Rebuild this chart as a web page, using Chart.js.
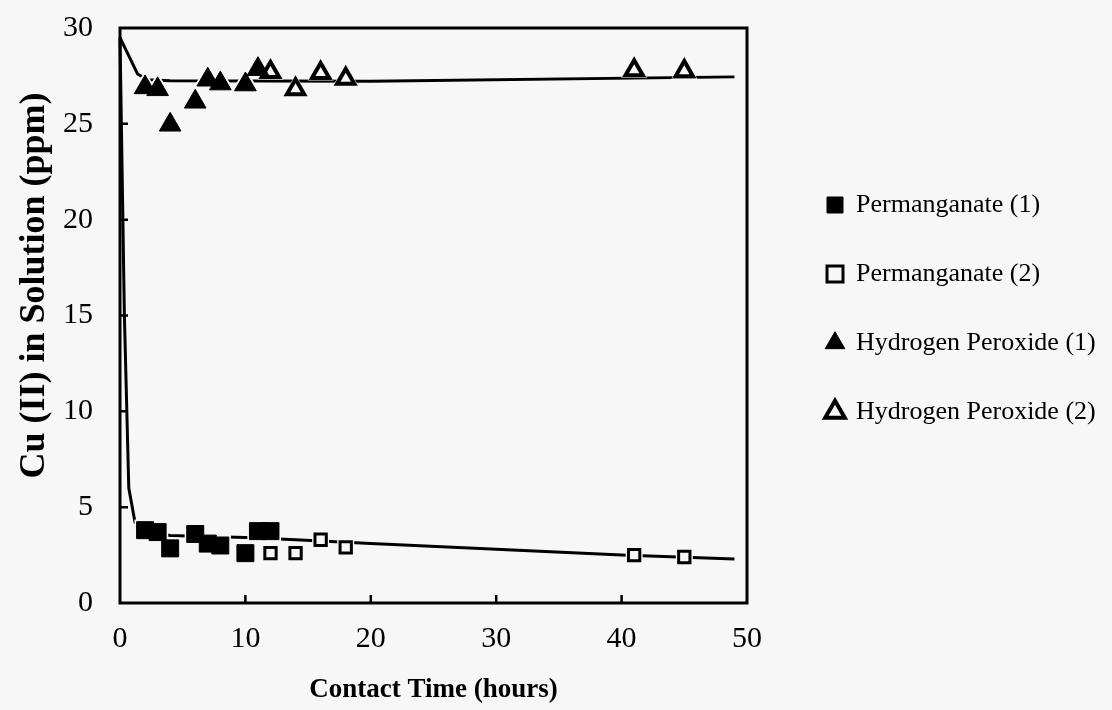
<!DOCTYPE html>
<html><head><meta charset="utf-8">
<script src="https://cdn.jsdelivr.net/npm/chart.js@4"></script>
<style>html,body{margin:0;padding:0;background:#f7f7f7;}#wrap{width:1112px;height:710px;}</style>
</head><body><div id="wrap"><canvas id="c" width="1112" height="710"></canvas></div>
<script>
// ---- data ----
const xTicks = [0, 10, 20, 30, 40, 50];
const yTicks = [0, 5, 10, 15, 20, 25, 30];
const seriesNames = ['Permanganate (1)', 'Permanganate (2)', 'Hydrogen Peroxide (1)', 'Hydrogen Peroxide (2)'];
const perm1X = [2, 3, 4, 6, 7, 8, 10, 11, 12];
const perm1Y = [3.8, 3.7, 2.85, 3.6, 3.1, 3.0, 2.6, 3.75, 3.75];
const perm2X = [12, 14, 16, 18, 41, 45];
const perm2Y = [2.6, 2.6, 3.3, 2.9, 2.5, 2.4];
const h2o2aX = [2, 3, 4, 6, 7, 8, 10, 11];
const h2o2aY = [26.9, 26.8, 24.95, 26.15, 27.3, 27.1, 27.05, 27.85];
const h2o2bX = [12, 14, 16, 18, 41, 45];
const h2o2bY = [27.7, 26.8, 27.65, 27.35, 27.8, 27.75];
const fitTopX = [0, 1.4, 2.2, 4, 20, 49];
const fitTopY = [29.5, 27.6, 27.3, 27.25, 27.22, 27.45];
const fitBotX = [0, 0.35, 0.7, 1.2, 2, 4, 10, 14, 20, 40, 49];
const fitBotY = [29.5, 15, 6, 4.2, 3.75, 3.52, 3.42, 3.3, 3.1, 2.5, 2.3];

const BG = '#f7f7f7';
const pts = (xs, ys) => xs.map((x, i) => ({x: x, y: ys[i]}));

function markerSet(label, xs, ys, style, radius, fill, bw) {
  return {label: label, data: pts(xs, ys), showLine: false, order: 1, clip: false,
    pointStyle: style, pointRadius: radius, pointHoverRadius: radius,
    backgroundColor: fill, borderColor: '#000', borderWidth: bw,
    pointBackgroundColor: fill, pointBorderColor: '#000', pointBorderWidth: bw};
}
function haloSet(xs, ys, style, radius) {
  return {label: '_halo', data: pts(xs, ys), showLine: false, order: 2, clip: false,
    pointStyle: style, pointRadius: radius, pointHoverRadius: radius,
    backgroundColor: BG, borderColor: BG, borderWidth: 0,
    pointBackgroundColor: BG, pointBorderColor: BG, pointBorderWidth: 0};
}
function fitSet(xs, ys) {
  return {label: '_fit', data: pts(xs, ys), showLine: true, order: 3, clip: false,
    borderColor: '#000', borderWidth: 3, pointRadius: 0, tension: 0, fill: false};
}

const frameTicks = {
  id: 'frameTicks',
  afterLayout(chart) {
    const L = chart.legend;
    if (L && L.columnSizes && L.columnSizes.length) {
      const pad = chart.options.plugins.legend.labels.padding;
      const h = L.bottom - L.top;
      L.left = 784; L.right = L.left + 330; L.width = 330;
      const colH = L.columnSizes[0].height;
      L.top = (2 * 192 - pad + colH - h) / 2; L.bottom = L.top + h;
    }
    // move the y-axis title centre up a little (title only; mapping already configured)
    chart.scales.y.bottom -= 60;
  },
  afterDatasetsDraw(chart) {
    const {ctx, chartArea: a, scales} = chart;
    ctx.save();
    ctx.strokeStyle = '#000';
    ctx.lineWidth = 3;
    ctx.strokeRect(a.left, a.top, a.right - a.left, a.bottom - a.top);
    ctx.lineWidth = 2.5;
    ctx.beginPath();
    xTicks.forEach(v => {
      if (v <= 0 || v >= 50) return;
      const px = scales.x.getPixelForValue(v);
      ctx.moveTo(px, a.bottom); ctx.lineTo(px, a.bottom - 8);
    });
    yTicks.forEach(v => {
      if (v <= 0 || v >= 30) return;
      const py = scales.y.getPixelForValue(v);
      ctx.moveTo(a.left, py); ctx.lineTo(a.left + 8, py);
    });
    ctx.stroke();
    ctx.restore();
  }
};

const serif = 'Liberation Serif, Times New Roman, serif';
new Chart(document.getElementById('c'), {
  type: 'scatter',
  data: {datasets: [
    fitSet(fitTopX, fitTopY),
    fitSet(fitBotX, fitBotY),
    haloSet(perm1X, perm1Y, 'rect', 15),
    haloSet(perm2X, perm2Y, 'rect', 12),
    haloSet(h2o2aX, h2o2aY, 'triangle', 17),
    haloSet(h2o2bX, h2o2bY, 'triangle', 15),
    markerSet(seriesNames[0], perm1X, perm1Y, 'rect', 12, '#000', 1),
    markerSet(seriesNames[1], perm2X, perm2Y, 'rect', 8, BG, 3),
    markerSet(seriesNames[2], h2o2aX, h2o2aY, 'triangle', 12.5, '#000', 1),
    markerSet(seriesNames[3], h2o2bX, h2o2bY, 'triangle', 10, BG, 4)
  ]},
  options: {
    responsive: false, animation: false, devicePixelRatio: 1,
    layout: {padding: {left: 9, top: 28, right: 119, bottom: 0}},
    plugins: {
      tooltip: {enabled: false},
      legend: {
        position: 'right', align: 'center',
        labels: {
          usePointStyle: true, boxWidth: 16, boxHeight: 16, padding: 43,
          color: '#000', font: {family: serif, size: 26},
          filter: item => !item.text.startsWith('_')
        }
      }
    },
    scales: {
      x: {
        type: 'linear', min: 0, max: 50,
        afterBuildTicks: s => { s.ticks = xTicks.map(v => ({value: v})); },
        afterFit: s => { s.height = 107; },
        grid: {display: false, drawTicks: false},
        border: {display: false},
        ticks: {color: '#000', padding: 18, font: {family: serif, size: 30}, maxRotation: 0},
        title: {display: true, text: 'Contact Time (hours)', color: '#000',
          font: {family: serif, size: 27, weight: 'bold'}, padding: {top: 0, bottom: 4}}
      },
      y: {
        type: 'linear', min: 0, max: 30,
        afterBuildTicks: s => { s.ticks = yTicks.map(v => ({value: v})); },
        afterFit: s => { s.width = 111; s.paddingTop = 0; s.paddingBottom = 0; },
        grid: {display: false, drawTicks: false},
        border: {display: false},
        ticks: {color: '#000', padding: 27, font: {family: serif, size: 30}},
        title: {display: true, text: 'Cu (II) in Solution (ppm)', color: '#000',
          font: {family: serif, size: 36, weight: 'bold'}, padding: {top: 4, bottom: 4}}
      }
    }
  },
  plugins: [frameTicks]
});
</script></body></html>
